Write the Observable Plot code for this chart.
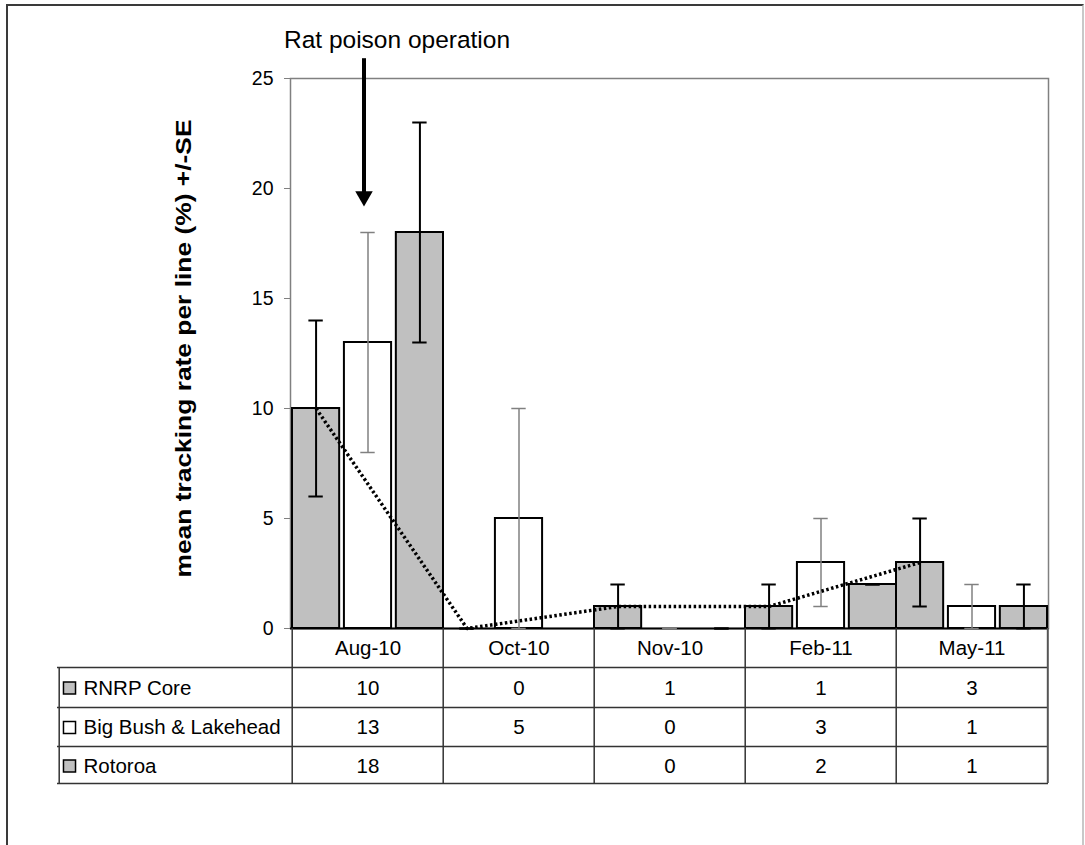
<!DOCTYPE html>
<html>
<head>
<meta charset="utf-8">
<script src="https://cdn.jsdelivr.net/npm/d3@7"></script>
<script src="https://cdn.jsdelivr.net/npm/@observablehq/plot@0.6"></script>
<style>
  html, body { margin: 0; padding: 0; background: #fff; }
  #chart { position: relative; width: 1085px; height: 845px; overflow: hidden; }
  #chart .border {
    position: absolute; left: 6px; top: 4px; width: 1078px; height: 900px;
    border-top: 2px solid #3a3a3a; border-left: 2px solid #3a3a3a; border-right: 2px solid #c8c8c8;
    box-sizing: border-box; pointer-events: none;
  }
  #chart svg { position: absolute; left: 0; top: 0; }
</style>
</head>
<body>
<div id="chart"><div class="border"></div></div>
<script>
// Survey dates and monitoring sites
const dates = ["Aug-10", "Oct-10", "Nov-10", "Feb-11", "May-11"];
const series = ["RNRP Core", "Big Bush & Lakehead", "Rotoroa"];

// Mean tracking rate per line (%) for each site, by survey date (null = not surveyed)
const rnrpCore = [10, 0, 1, 1, 3];
const bigBush = [13, 5, 0, 3, 1];
const rotoroa = [18, null, 0, 2, 1];

// Standard errors for the same cells
const rnrpCoreSE = [4, 0, 1, 1, 2];
const bigBushSE = [5, 5, 0, 2, 1];
const rotoroaSE = [5, null, 0, 0, 1];

const yLabel = "mean tracking rate per line (%) +/-SE";

// Poisoning event marker
const annotations = [{date: "Aug-10", label: "Rat poison operation", from: 25.9, to: 19.2}];

// Styling per site
const fills = ["#c0c0c0", "#ffffff", "#c0c0c0"];
const errColors = ["#000000", "#808080", "#000000"];
const errWidths = [2, 1.5, 2];

// Long-format table built from the arrays above
const values = [rnrpCore, bigBush, rotoroa];
const ses = [rnrpCoreSE, bigBushSE, rotoroaSE];
const table = series.flatMap((s, j) => dates.map((d, i) => ({
  series: s, date: d, value: values[j][i], se: ses[j][i]
})));

// Layout
const W = 1085, H = 845;
const mL = 290, mR = 37, mT = 78, mB = 217;
const bw = (W - mL - mR) / dates.length;          // width of one date column
const legendWidth = 233;                            // left column of the data table
const inner = d3.scaleBand(series, [0, bw]).paddingInner(0.08).paddingOuter(0);
const ib = inner.bandwidth();
const capHalf = 7.5;
const headerCenter = 20;                            // header row text, below the baseline
const rowLines = [39, 79, 118, 155];                // table row borders, below the baseline
const rowCenters = [59.5, 99, 137.5];
const tableFont = 20.5;

const marks = [];

// Plot area border
marks.push(Plot.frame({stroke: "#808080", strokeWidth: 1.5}));

// Bars
series.forEach((s, j) => {
  const rows = table.filter(d => d.series === s && d.value != null && d.value > 0);
  const left = inner(s);
  marks.push(Plot.barY(rows, {
    x: "date", y: "value", fill: fills[j], stroke: "#000", strokeWidth: 2,
    insetLeft: left, insetRight: bw - left - ib
  }));
});

marks.push(Plot.ruleY([0], {stroke: "#000", strokeWidth: 2}));

// Error bars (stem + caps)
series.forEach((s, j) => {
  const rows = table.filter(d => d.series === s && d.value != null);
  const left = inner(s);
  const shift = left + ib / 2 - bw / 2;
  const capL = left + ib / 2 - capHalf;
  const capR = bw - left - ib / 2 - capHalf;
  const lo = d => Math.max(0, d.value - d.se);
  const hi = d => d.value + d.se;
  marks.push(Plot.ruleX(rows.filter(d => d.se > 0), {
    x: "date", y1: lo, y2: hi, dx: shift, stroke: errColors[j], strokeWidth: errWidths[j]
  }));
  for (const f of [lo, hi]) {
    marks.push(Plot.tickY(rows, {
      x: "date", y: f, insetLeft: capL, insetRight: capR,
      stroke: errColors[j], strokeWidth: errWidths[j]
    }));
  }
});

// RNRP Core trend line through its bar centres, dotted
{
  const rows = table.filter(d => d.series === series[0]);
  marks.push(Plot.line(rows, {
    x: "date", y: "value", dx: inner(series[0]) + ib / 2 - bw / 2,
    stroke: "#000", strokeWidth: 3.5, strokeDasharray: "2.5 2.5", strokeLinecap: "butt"
  }));
}

// Y axis
marks.push(Plot.axisY({
  ticks: 5, tickSize: 6, tickPadding: 11, fontSize: 19.5, stroke: "#808080", label: null
}));
marks.push(Plot.text([yLabel], {
  frameAnchor: "left", dx: -107, dy: -5, rotate: -90, text: d => d,
  textAnchor: "middle", lineAnchor: "middle", fontSize: 22, fontWeight: "bold",
  className: "ylabel"
}));

// Poisoning annotation: label, shaft and filled head
marks.push(Plot.text(annotations, {
  x: "date", frameAnchor: "top", dy: -38, dx: 29, text: "label",
  fontSize: 24.5, lineAnchor: "middle"
}));
marks.push(Plot.ruleX(annotations, {
  x: "date", y1: "from", y2: "to", dx: -4, stroke: "#000", strokeWidth: 4, insetBottom: 10
}));
marks.push(Plot.dot(annotations, {
  x: "date", y: "to", dx: -4, dy: -9.8, symbol: "triangle", rotate: 180, r: 6.5,
  fill: "#000", stroke: "none"
}));

// Data table: header row
marks.push(Plot.text(dates, {
  x: d => d, text: d => d, frameAnchor: "bottom", dy: headerCenter,
  lineAnchor: "middle", fontSize: tableFont
}));

// Data table: grid
for (const o of rowLines) {
  marks.push(Plot.ruleY([0], {dy: o, insetLeft: -legendWidth, stroke: "#333", strokeWidth: 1.5}));
}
marks.push(Plot.ruleX(dates, {
  x: d => d, y1: 0, y2: 0, insetBottom: -rowLines[3], dx: -bw / 2, stroke: "#333", strokeWidth: 1.5
}));
marks.push(Plot.ruleX(dates.slice(-1), {
  x: d => d, y1: 0, y2: 0, insetBottom: -rowLines[3], dx: bw / 2, stroke: "#555", strokeWidth: 2
}));
marks.push(Plot.ruleX(dates.slice(0, 1), {
  x: d => d, y1: 0, y2: 0, insetTop: rowLines[0], insetBottom: -rowLines[3],
  dx: -bw / 2 - legendWidth, stroke: "#333", strokeWidth: 1.5
}));

// Data table: legend keys, site names and values
series.forEach((s, j) => {
  marks.push(Plot.dot([s], {
    frameAnchor: "bottom-left", dx: -legendWidth + 12, dy: rowCenters[j],
    symbol: "square", r: 6.8, fill: fills[j], stroke: "#000", strokeWidth: 1.5
  }));
  marks.push(Plot.text([s], {
    frameAnchor: "bottom-left", dx: -legendWidth + 26, dy: rowCenters[j], text: d => d,
    textAnchor: "start", lineAnchor: "middle", fontSize: tableFont
  }));
  marks.push(Plot.text(table.filter(d => d.series === s && d.value != null), {
    x: "date", text: d => String(d.value), frameAnchor: "bottom", dy: rowCenters[j],
    lineAnchor: "middle", fontSize: tableFont
  }));
});

const chart = Plot.plot({
  width: W, height: H,
  marginLeft: mL, marginRight: mR, marginTop: mT, marginBottom: mB,
  style: {fontFamily: "'Liberation Sans', Arial, sans-serif", fontSize: "18px", background: "transparent", color: "#000"},
  x: {domain: dates, padding: 0, axis: null},
  y: {domain: [0, 25], axis: null},
  marks
});

// The axis title is set a little wider than its natural width
d3.select(chart).selectAll("g.ylabel text")
  .attr("textLength", 458)
  .attr("lengthAdjust", "spacingAndGlyphs");

document.getElementById("chart").appendChild(chart);
</script>
</body>
</html>
